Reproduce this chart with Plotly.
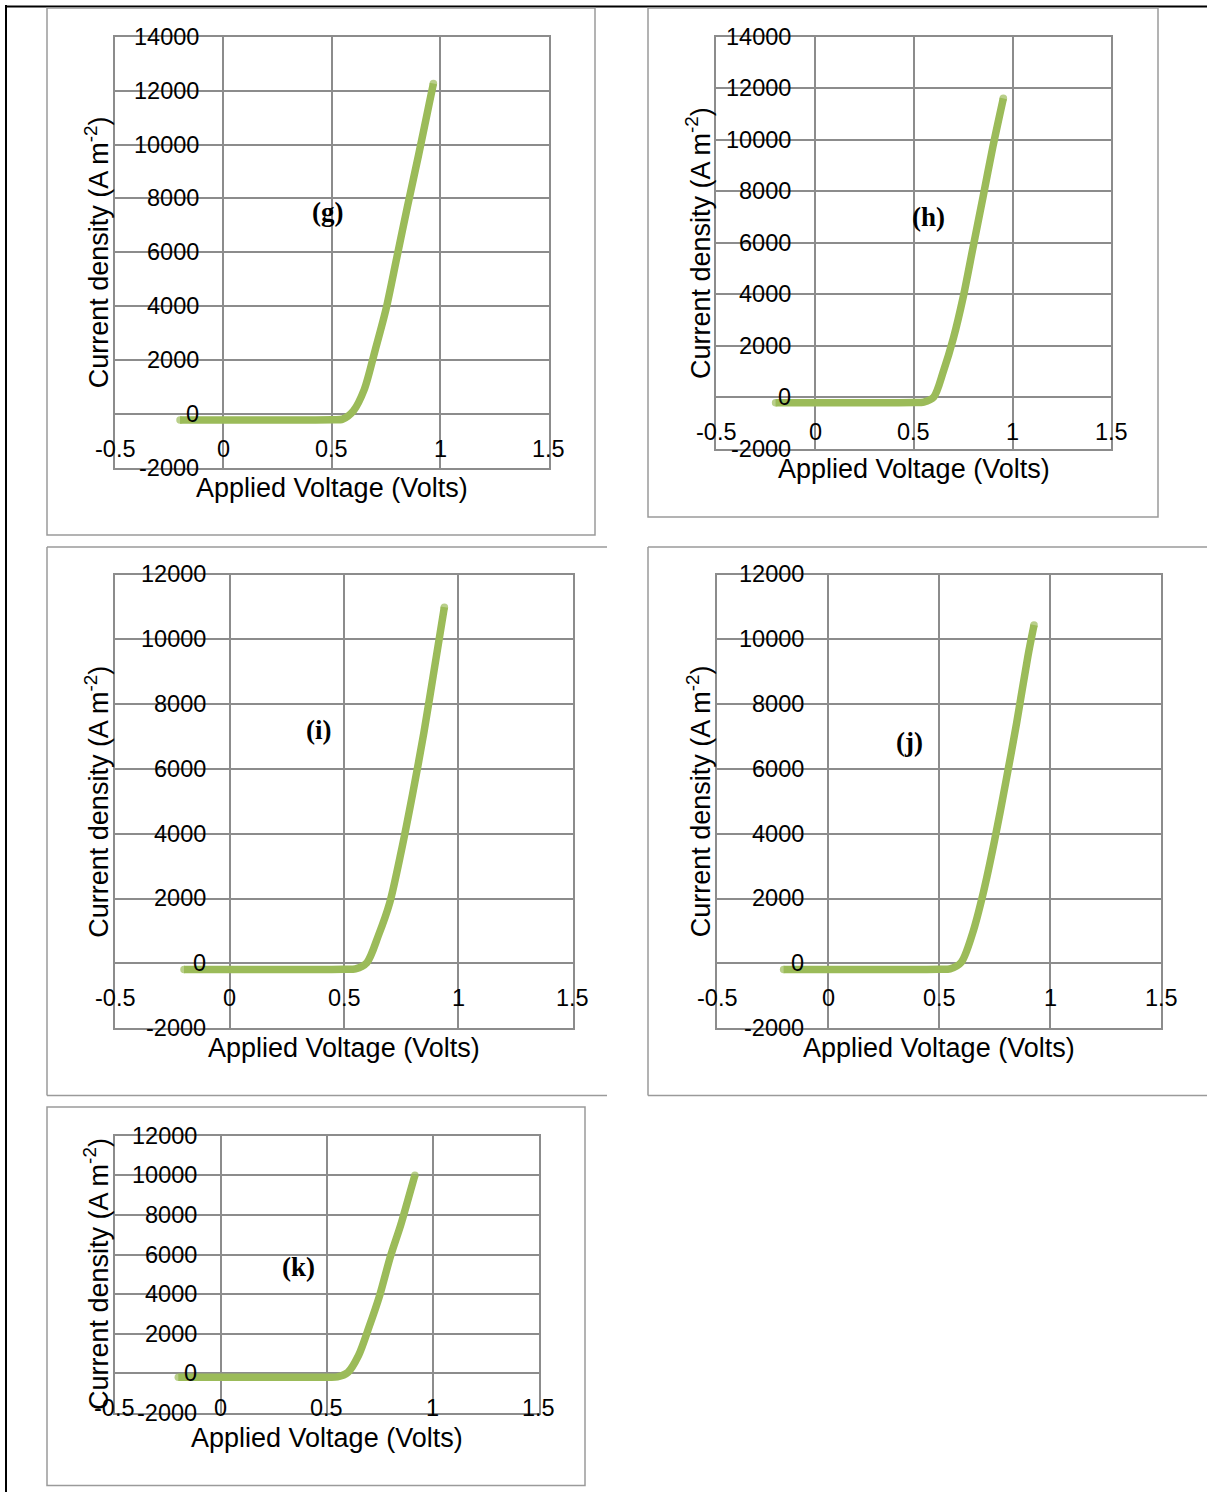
import plotly.graph_objects as go

W, H = 1207, 1492

# ---------------- data ----------------
voltage_g = [-0.2, 0.0, 0.2, 0.4, 0.5, 0.55, 0.6, 0.65, 0.7, 0.75, 0.8, 0.85, 0.9, 0.95, 0.969]
current_g = [-220, -220, -220, -220, -215, -190, 120, 910, 2360, 3880, 5800, 7730, 9590, 11530, 12270]

voltage_h = [-0.2, 0.0, 0.2, 0.4, 0.5, 0.55, 0.6, 0.65, 0.7, 0.75, 0.8, 0.85, 0.9, 0.953]
current_h = [-210, -210, -210, -210, -205, -185, 0, 1020, 2290, 3900, 5840, 7770, 9730, 11610]

voltage_i = [-0.2, 0.0, 0.2, 0.4, 0.5, 0.55, 0.6, 0.65, 0.7, 0.75, 0.8, 0.85, 0.9, 0.939]
current_i = [-190, -190, -190, -190, -185, -170, 20, 850, 1870, 3440, 5220, 7140, 9300, 10990]

voltage_j = [-0.2, 0.0, 0.2, 0.4, 0.5, 0.55, 0.6, 0.65, 0.7, 0.75, 0.8, 0.85, 0.9, 0.928]
current_j = [-190, -190, -190, -190, -185, -170, 30, 900, 2190, 3780, 5560, 7430, 9460, 10440]

voltage_k = [-0.2, 0.0, 0.2, 0.4, 0.5, 0.55, 0.6, 0.65, 0.7, 0.75, 0.8, 0.85, 0.9, 0.916]
current_k = [-200, -200, -200, -200, -195, -180, 50, 900, 2350, 3940, 5880, 7520, 9400, 10000]

x_ticks = [-0.5, 0, 0.5, 1, 1.5]
x_tick_labels = ["-0.5", "0", "0.5", "1", "1.5"]
y_ticks_14k = [-2000, 0, 2000, 4000, 6000, 8000, 10000, 12000, 14000]
y_ticks_12k = [-2000, 0, 2000, 4000, 6000, 8000, 10000, 12000]

panel_labels = ["(g)", "(h)", "(i)", "(j)", "(k)"]
x_title = "Applied Voltage (Volts)"
y_title = "Current density (A m<sup>-2</sup>)"

# ---------------- layout / style ----------------
LINE_GREEN = "#9BBB59"
GRID = "#8C8C8C"
FRAME = "#9A9A9A"
TICK_FONT = dict(family="Liberation Sans, Arial, sans-serif", size=23.5, color="#000000")
TITLE_FONT = dict(family="Liberation Sans, Arial, sans-serif", size=27, color="#000000")
LABEL_FONT = dict(family="Liberation Serif, Times New Roman, serif", size=27, color="#000000")

panels = [
    dict(V=voltage_g, J=current_g, yt=y_ticks_14k, box=(115, 36.8, 548.5, 467.9), xt=20, lab=(0.48, 7500)),
    dict(V=voltage_h, J=current_h, yt=y_ticks_14k, box=(716.3, 36.8, 1111.4, 448.8), xt=20, lab=(0.572, 7000)),
    dict(V=voltage_i, J=current_i, yt=y_ticks_12k, box=(115.4, 574.5, 572.6, 1028.1), xt=20, lab=(0.389, 7200)),
    dict(V=voltage_j, J=current_j, yt=y_ticks_12k, box=(717, 574.5, 1161, 1028.1), xt=20, lab=(0.365, 6830)),
    dict(V=voltage_k, J=current_k, yt=y_ticks_12k, box=(114.7, 1135.7, 538.7, 1412.9), xt=25, lab=(0.369, 5360)),
]

fig = go.Figure()
annotations = []
shapes = []
layout_axes = {}

for n, p in enumerate(panels, start=1):
    sfx = "" if n == 1 else str(n)
    xa, ya = "x" + sfx, "y" + sfx
    l, t, r, b = p["box"]
    npts = len(p["V"])
    sizes = [7.5] + [0] * (npts - 2) + [7.5]
    fig.add_trace(go.Scatter(
        x=p["V"], y=p["J"], xaxis=xa, yaxis=ya, mode="lines+markers",
        line=dict(color=LINE_GREEN, width=7.5, shape="spline", smoothing=0.8),
        marker=dict(color=LINE_GREEN, size=sizes, line=dict(width=0)),
        showlegend=False, hoverinfo="skip",
    ))
    layout_axes["xaxis" + sfx] = dict(
        domain=[l / W, r / W], anchor=ya, range=[-0.5, 1.5], tickvals=x_ticks,
        showticklabels=False, showgrid=True, gridcolor=GRID, gridwidth=2,
        showline=True, linecolor=GRID, linewidth=2, mirror=True, zeroline=False, ticks="",
    )
    layout_axes["yaxis" + sfx] = dict(
        domain=[1 - b / H, 1 - t / H], anchor=xa, range=[p["yt"][0], p["yt"][-1]], tickvals=p["yt"],
        showticklabels=False, showgrid=True, gridcolor=GRID, gridwidth=2,
        showline=True, linecolor=GRID, linewidth=2, mirror=True, zeroline=False, ticks="",
    )
    # y tick labels at the axis crossing x = 0
    for v in p["yt"]:
        annotations.append(dict(x=0, y=v, xref=xa, yref=ya, text=str(v), showarrow=False,
                                xanchor="right", yanchor="middle", xshift=-22, font=TICK_FONT))
    # x tick labels below the axis crossing y = 0
    for v, s in zip(x_ticks, x_tick_labels):
        annotations.append(dict(x=v, y=0, xref=xa, yref=ya, text=s, showarrow=False,
                                xanchor="center", yanchor="middle", yshift=-35, font=TICK_FONT))
    # axis titles
    annotations.append(dict(x=0.5, y=0, xref=xa + " domain", yref=ya + " domain", text=x_title,
                            showarrow=False, xanchor="center", yanchor="middle", yshift=-p["xt"],
                            font=TITLE_FONT))
    annotations.append(dict(x=0, y=0.5, xref=xa + " domain", yref=ya + " domain", text=y_title,
                            showarrow=False, xanchor="center", yanchor="middle", xshift=-18,
                            textangle=-90, font=TITLE_FONT))
    # panel label
    annotations.append(dict(x=p["lab"][0], y=p["lab"][1], xref=xa, yref=ya,
                            text="<b>" + panel_labels[n - 1] + "</b>", showarrow=False,
                            xanchor="center", yanchor="middle", font=LABEL_FONT))


def hline(x0, x1, y, color, w):
    shapes.append(dict(type="line", xref="paper", yref="paper", x0=x0 / W, x1=x1 / W,
                       y0=1 - y / H, y1=1 - y / H, line=dict(color=color, width=w)))


def vline(x, y0, y1, color, w):
    shapes.append(dict(type="line", xref="paper", yref="paper", x0=x / W, x1=x / W,
                       y0=1 - y0 / H, y1=1 - y1 / H, line=dict(color=color, width=w)))


def rect(x0, y0, x1, y1, color, w):
    shapes.append(dict(type="rect", xref="paper", yref="paper", x0=x0 / W, x1=x1 / W,
                       y0=1 - y1 / H, y1=1 - y0 / H, line=dict(color=color, width=w),
                       fillcolor="rgba(0,0,0,0)"))


# page / table lines
hline(5, 1207, 6.5, "#000000", 2)
vline(6, 5, 1492, "#000000", 2)
# panel frames
rect(47, 8, 595, 535, FRAME, 1.5)
rect(648, 8, 1158, 517, FRAME, 1.5)
hline(47, 607, 547, FRAME, 1.5)
hline(47, 607, 1095.5, FRAME, 1.5)
vline(47, 547, 1095.5, FRAME, 1.5)
hline(648, 1207, 547, FRAME, 1.5)
hline(648, 1207, 1095.5, FRAME, 1.5)
vline(648, 547, 1095.5, FRAME, 1.5)
rect(47, 1107, 585, 1485.5, FRAME, 1.5)

fig.update_layout(
    width=W, height=H, margin=dict(l=0, r=0, t=0, b=0),
    paper_bgcolor="white", plot_bgcolor="white",
    annotations=annotations, shapes=shapes, showlegend=False,
    **layout_axes,
)

fig.write_html("out.html", config={"displayModeBar": False},
               post_script="document.body.style.margin='0';document.body.style.overflow='hidden';")
